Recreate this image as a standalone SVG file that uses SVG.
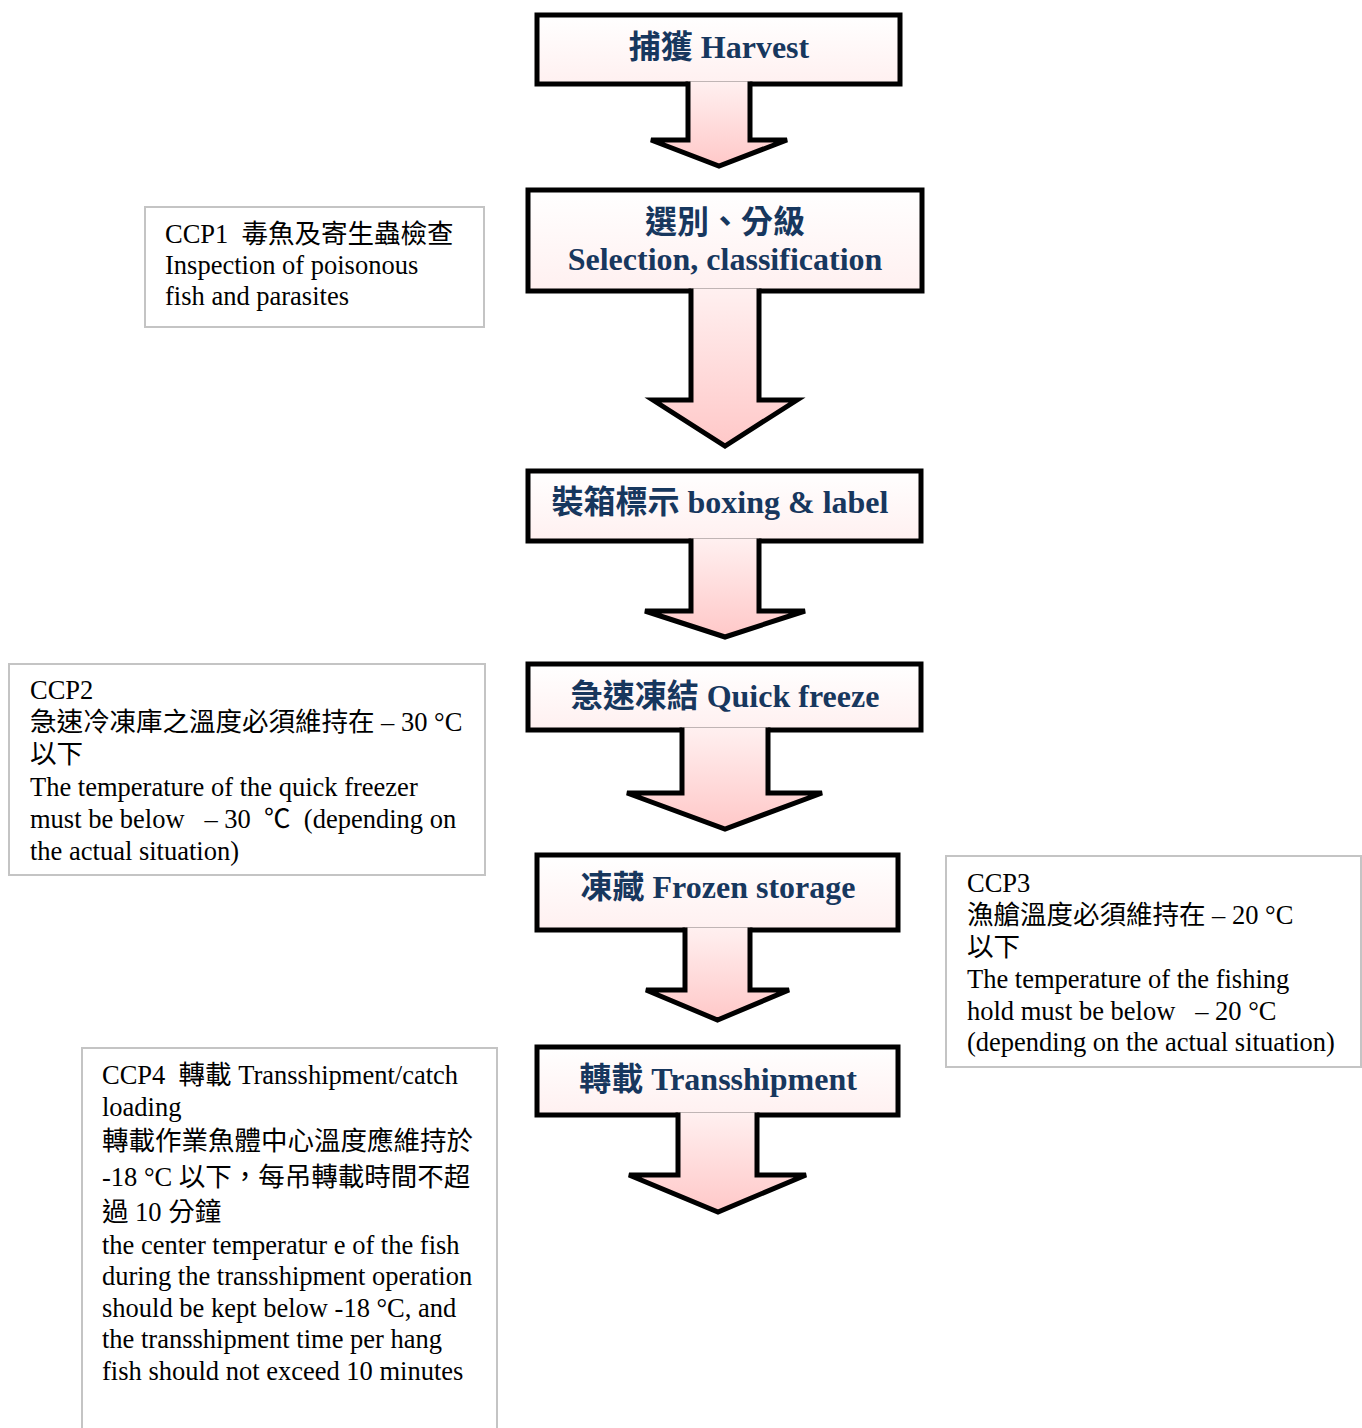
<svg xmlns="http://www.w3.org/2000/svg" width="1362" height="1428" viewBox="0 0 1362 1428">
<style>
.title{font-family:"Liberation Serif","Noto Sans CJK TC",serif;font-weight:bold;font-size:32px;fill:#17375E;text-anchor:middle}
.note{font-family:"Liberation Serif","Noto Sans CJK TC",serif;font-size:26.5px;fill:#000;white-space:pre}
.box{fill:url(#gRect);stroke:#000;stroke-width:5}
.arr{fill:url(#gArr);stroke:#000;stroke-width:5;stroke-linejoin:miter;stroke-miterlimit:4}
.nbox{fill:#fff;stroke:#C4C4C4;stroke-width:2}
</style>
<defs>
<linearGradient id="gRect" x1="0" y1="0" x2="0" y2="1"><stop offset="0" stop-color="#FFFFFF"/><stop offset="1" stop-color="#FFF0F0"/></linearGradient>
<linearGradient id="gArr" x1="0" y1="0" x2="0" y2="1"><stop offset="0" stop-color="#FFF0F0"/><stop offset="1" stop-color="#FFC8C8"/></linearGradient>
</defs>
<rect width="1362" height="1428" fill="#fff"/>
<g id="harvest"><rect class="box" x="537" y="15" width="363" height="69"/><text class="title" x="719" y="58">捕獲 Harvest</text></g>
<g id="selection"><rect class="box" x="528" y="190" width="394" height="101"/><text class="title" x="725" y="233">選別、分級</text><text class="title" x="725" y="270">Selection, classification</text></g>
<g id="boxing"><rect class="box" x="528" y="471" width="393" height="70"/><text class="title" x="720" y="513">裝箱標示 boxing &amp; label</text></g>
<g id="quickfreeze"><rect class="box" x="528" y="664" width="393" height="66"/><text class="title" x="725" y="707">急速凍結 Quick freeze</text></g>
<g id="frozenstorage"><rect class="box" x="537" y="855" width="361" height="75"/><text class="title" x="718" y="898">凍藏 Frozen storage</text></g>
<g id="transshipment"><rect class="box" x="537" y="1047" width="361" height="68"/><text class="title" x="718" y="1090">轉載 Transshipment</text></g>
<g id="connectors">
<path class="arr" d="M688,81.5 V140 H651 L719,166 L787,140 H750 V81.5"/>
<path class="arr" d="M691,288.5 V400 H653 L725,446 L797,400 H759 V288.5"/>
<path class="arr" d="M691,538.5 V611 H645 L725,637 L805,611 H759 V538.5"/>
<path class="arr" d="M682,727.5 V793 H627 L725,829 L822,793 H768 V727.5"/>
<path class="arr" d="M685,927.5 V990 H646 L717.5,1020 L789,990 H750 V927.5"/>
<path class="arr" d="M678,1112.5 V1175 H629 L718,1212 L806,1175 H757 V1112.5"/>
</g>
<g id="ccp1"><rect class="nbox" x="145" y="207" width="339" height="120"/>
<text class="note" x="165" y="243">CCP1  毒魚及寄生蟲檢查</text>
<text class="note" x="165" y="274">Inspection of poisonous</text>
<text class="note" x="165" y="305">fish and parasites</text></g>
<g id="ccp2"><rect class="nbox" x="9" y="664" width="476" height="211"/>
<text class="note" x="30" y="699">CCP2</text>
<text class="note" x="30" y="731">急速冷凍庫之溫度必須維持在 – 30 °C</text>
<text class="note" x="30" y="763">以下</text>
<text class="note" x="30" y="796">The temperature of the quick freezer</text>
<text class="note" x="30" y="828">must be below   – 30  ℃  (depending on</text>
<text class="note" x="30" y="860">the actual situation)</text></g>
<g id="ccp3"><rect class="nbox" x="946" y="856" width="415" height="211"/>
<text class="note" x="967" y="892">CCP3</text>
<text class="note" x="967" y="924">漁艙溫度必須維持在 – 20 °C</text>
<text class="note" x="967" y="956">以下</text>
<text class="note" x="967" y="988">The temperature of the fishing</text>
<text class="note" x="967" y="1020">hold must be below   – 20 °C</text>
<text class="note" x="967" y="1051">(depending on the actual situation)</text></g>
<g id="ccp4"><rect class="nbox" x="82" y="1048" width="415" height="400"/>
<text class="note" x="102" y="1084">CCP4  轉載 Transshipment/catch</text>
<text class="note" x="102" y="1116">loading</text>
<text class="note" x="102" y="1150">轉載作業魚體中心溫度應維持於</text>
<text class="note" x="102" y="1186">-18 °C 以下，每吊轉載時間不超</text>
<text class="note" x="102" y="1221">過 10 分鐘</text>
<text class="note" x="102" y="1254">the center temperatur e of the fish</text>
<text class="note" x="102" y="1285">during the transshipment operation</text>
<text class="note" x="102" y="1317">should be kept below -18 °C, and</text>
<text class="note" x="102" y="1348">the transshipment time per hang</text>
<text class="note" x="102" y="1380">fish should not exceed 10 minutes</text></g>
</svg>
